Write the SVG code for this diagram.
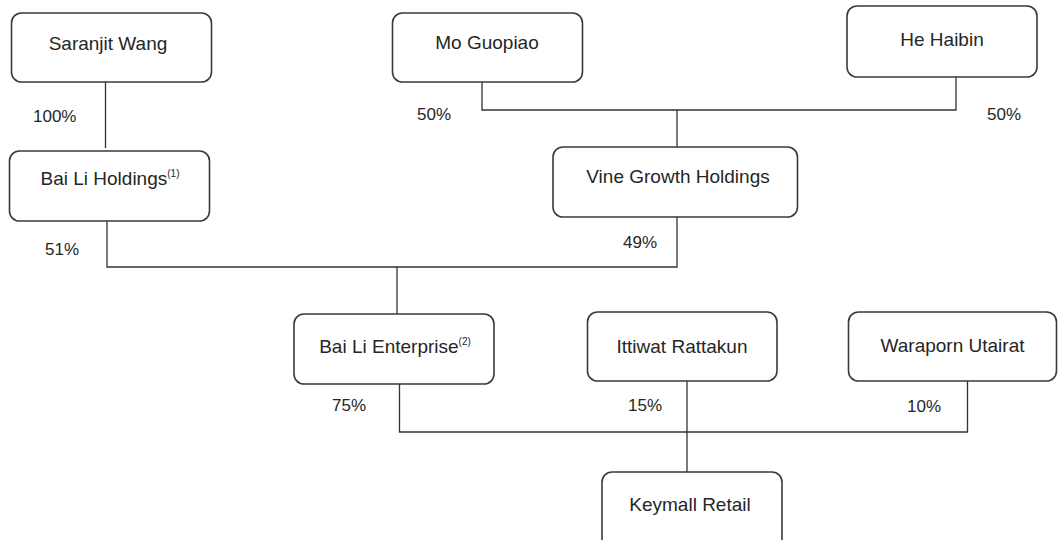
<svg xmlns="http://www.w3.org/2000/svg" width="1058" height="540" viewBox="0 0 1058 540">
<style>
.box{fill:#fff;stroke:#3a3a3a;stroke-width:1.6}
.name{font-family:"Liberation Sans",Arial,sans-serif;font-size:19px;fill:#262626;text-anchor:middle}
.sup{font-size:10px}
.pct{font-family:"Liberation Sans",Arial,sans-serif;font-size:17px;fill:#262626}
.conn{fill:none;stroke:#333;stroke-width:1.3}
</style>
<rect width="1058" height="540" fill="#fff"/>
<g id="connectors">
<path class="conn" d="M105.5,82V148"/>
<path class="conn" d="M482,82V110H956V77"/>
<path class="conn" d="M677,110V147"/>
<path class="conn" d="M107,221V267H677V217"/>
<path class="conn" d="M397,267V314"/>
<path class="conn" d="M399.5,384V432H967.5V381"/>
<path class="conn" d="M687,381V472"/>
</g>
<g id="labels">
<text class="pct" x="33" y="121.5">100%</text>
<text class="pct" x="417" y="120">50%</text>
<text class="pct" x="987" y="120">50%</text>
<text class="pct" x="45" y="255">51%</text>
<text class="pct" x="623" y="248">49%</text>
<text class="pct" x="332" y="411">75%</text>
<text class="pct" x="628" y="411">15%</text>
<text class="pct" x="907" y="411.5">10%</text>
</g>
<g id="saranjit-wang">
<rect class="box" x="11.5" y="13" width="200" height="69" rx="10"/>
<text class="name" x="108" y="50">Saranjit Wang</text>
</g>
<g id="mo-guopiao">
<rect class="box" x="392.5" y="13" width="190" height="69" rx="10"/>
<text class="name" x="487" y="49">Mo Guopiao</text>
</g>
<g id="he-haibin">
<rect class="box" x="847" y="6" width="190" height="71" rx="10"/>
<text class="name" x="942" y="46">He Haibin</text>
</g>
<g id="bai-li-holdings">
<rect class="box" x="9.5" y="151" width="200" height="70" rx="10"/>
<text class="name" x="110" y="185">Bai Li Holdings<tspan class="sup" dy="-8">(1)</tspan></text>
</g>
<g id="vine-growth-holdings">
<rect class="box" x="553" y="147" width="244.5" height="70" rx="10"/>
<text class="name" x="678" y="183">Vine Growth Holdings</text>
</g>
<g id="bai-li-enterprise">
<rect class="box" x="294" y="314" width="200" height="70" rx="10"/>
<text class="name" x="395" y="353">Bai Li Enterprise<tspan class="sup" dy="-8">(2)</tspan></text>
</g>
<g id="ittiwat-rattakun">
<rect class="box" x="587.5" y="312" width="189.5" height="69" rx="10"/>
<text class="name" x="682" y="353">Ittiwat Rattakun</text>
</g>
<g id="waraporn-utairat">
<rect class="box" x="848.5" y="312" width="208" height="69" rx="10"/>
<text class="name" x="952.5" y="352">Waraporn Utairat</text>
</g>
<g id="keymall-retail">
<rect class="box" x="602" y="472" width="180" height="76" rx="10"/>
<text class="name" x="690" y="511">Keymall Retail</text>
</g>
</svg>
